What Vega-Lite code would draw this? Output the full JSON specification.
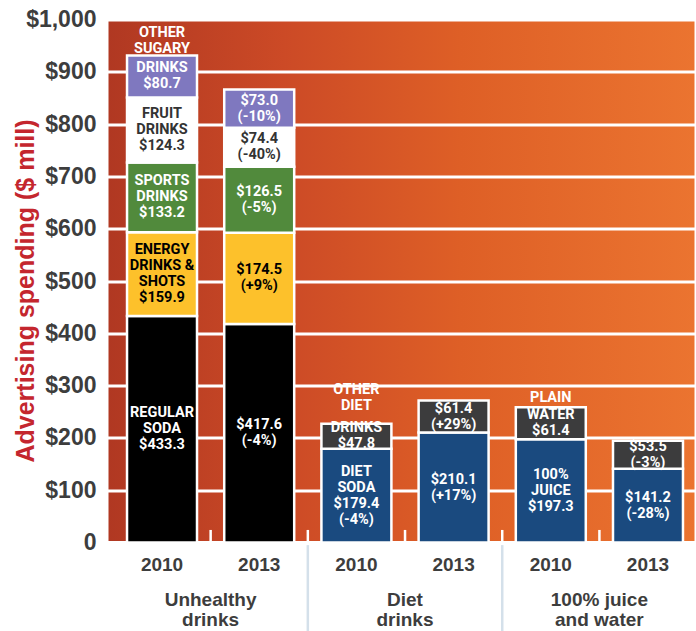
{
  "$schema": "https://vega.github.io/schema/vega-lite/v6.json",
  "width": 589,
  "height": 523,
  "autosize": {"type": "none"},
  "padding": {"left": 107, "top": 19.5, "right": 0, "bottom": 88.5},
  "background": "#ffffff",
  "view": {
    "fill": {"gradient": "linear", "x1": 0, "y1": 0, "x2": 1, "y2": 0,
      "stops": [
        {"offset": 0, "color": "#b03822"},
        {"offset": 0.3, "color": "#cc4a26"},
        {"offset": 0.6, "color": "#de5f26"},
        {"offset": 1, "color": "#eb7430"}
      ]},
    "stroke": "#ffffff",
    "strokeWidth": 3
  },
  "config": {"font": "Liberation Sans"},
  "datasets": {
    "segments": [
      {"bar": "Unhealthy drinks 2010", "segment": "Regular soda", "layer": 1, "value": 433.3, "label": "REGULAR\nSODA\n$433.3", "top": ""},
      {"bar": "Unhealthy drinks 2010", "segment": "Energy drinks & shots", "layer": 2, "value": 159.9, "label": "ENERGY\nDRINKS &\nSHOTS\n$159.9", "top": ""},
      {"bar": "Unhealthy drinks 2010", "segment": "Sports drinks", "layer": 3, "value": 133.2, "label": "SPORTS\nDRINKS\n$133.2", "top": ""},
      {"bar": "Unhealthy drinks 2010", "segment": "Fruit drinks", "layer": 4, "value": 124.3, "label": "FRUIT\nDRINKS\n$124.3", "top": ""},
      {"bar": "Unhealthy drinks 2010", "segment": "Other sugary drinks", "layer": 5, "value": 80.7, "label": "DRINKS\n$80.7", "top": "OTHER\nSUGARY"},
      {"bar": "Unhealthy drinks 2013", "segment": "Regular soda", "layer": 1, "value": 417.6, "label": "$417.6\n(-4%)", "top": ""},
      {"bar": "Unhealthy drinks 2013", "segment": "Energy drinks & shots", "layer": 2, "value": 174.5, "label": "$174.5\n(+9%)", "top": ""},
      {"bar": "Unhealthy drinks 2013", "segment": "Sports drinks", "layer": 3, "value": 126.5, "label": "$126.5\n(-5%)", "top": ""},
      {"bar": "Unhealthy drinks 2013", "segment": "Fruit drinks", "layer": 4, "value": 74.4, "label": "$74.4\n(-40%)", "top": ""},
      {"bar": "Unhealthy drinks 2013", "segment": "Other sugary drinks", "layer": 5, "value": 73.0, "label": "$73.0\n(-10%)", "top": ""},
      {"bar": "Diet drinks 2010", "segment": "Diet soda", "layer": 1, "value": 179.4, "label": "DIET\nSODA\n$179.4\n(-4%)", "top": ""},
      {"bar": "Diet drinks 2010", "segment": "Other diet drinks", "layer": 2, "value": 47.8, "label": "DRINKS\n$47.8", "top": "OTHER\nDIET"},
      {"bar": "Diet drinks 2013", "segment": "Diet soda", "layer": 1, "value": 210.1, "label": "$210.1\n(+17%)", "top": ""},
      {"bar": "Diet drinks 2013", "segment": "Other diet drinks", "layer": 2, "value": 61.4, "label": "$61.4\n(+29%)", "top": ""},
      {"bar": "100% juice and water 2010", "segment": "100% juice", "layer": 1, "value": 197.3, "label": "100%\nJUICE\n$197.3", "top": ""},
      {"bar": "100% juice and water 2010", "segment": "Plain water", "layer": 2, "value": 61.4, "label": "WATER\n$61.4", "top": "PLAIN"},
      {"bar": "100% juice and water 2013", "segment": "100% juice", "layer": 1, "value": 141.2, "label": "$141.2\n(-28%)", "top": ""},
      {"bar": "100% juice and water 2013", "segment": "Plain water", "layer": 2, "value": 53.5, "label": "$53.5\n(-3%)", "top": ""}
    ],
    "groups": [
      {"group": "Unhealthy\ndrinks", "first": "Unhealthy drinks 2010"},
      {"group": "Diet\ndrinks", "first": "Diet drinks 2010"},
      {"group": "100% juice\nand water", "first": "100% juice and water 2010"}
    ],
    "boundaries": [
      {"bar": "Unhealthy drinks 2013"},
      {"bar": "Diet drinks 2010"},
      {"bar": "Diet drinks 2013"},
      {"bar": "100% juice and water 2010"},
      {"bar": "100% juice and water 2013"}
    ]
  },
  "layer": [
    {
      "data": {"name": "segments"},
      "mark": {"type": "bar", "stroke": "#ffffff", "strokeWidth": 2.5},
      "encoding": {
        "x": {
          "field": "bar", "type": "nominal", "title": null,
          "scale": {
            "domain": ["Unhealthy drinks 2010", "Unhealthy drinks 2013", "Diet drinks 2010", "Diet drinks 2013", "100% juice and water 2010", "100% juice and water 2013"],
            "paddingInner": 0.28, "paddingOuter": 0.17, "align": 0.606
          },
          "axis": {
            "title": null, "labelExpr": "slice(datum.label, -4)", "labelAngle": 0,
            "ticks": false, "tickSize": 0, "domain": false, "labelPadding": 13,
            "labelFontSize": 19, "labelFontWeight": "bold", "labelColor": "#3d3d3d", "labelFont": "Liberation Sans"
          }
        },
        "y": {
          "field": "value", "type": "quantitative", "stack": "zero",
          "title": "Advertising spending ($ mill)",
          "scale": {"domain": [0, 1000], "nice": false},
          "axis": {
            "title": "Advertising spending ($ mill)",
            "values": [0, 100, 200, 300, 400, 500, 600, 700, 800, 900, 1000],
            "labelExpr": "datum.value == 0 ? '0' : '$' + format(datum.value, ',')",
            "grid": true, "gridColor": "#ffffff", "gridWidth": 3, "gridOpacity": 1,
            "domain": false, "ticks": false, "tickSize": 0, "labelPadding": 11,
            "labelFontSize": 23, "labelFontWeight": "bold", "labelColor": "#3d3d3d", "labelFont": "Liberation Sans",
            "titleColor": "#c4262e", "titleFontSize": 25, "titleFontWeight": "bold", "titleFont": "Liberation Sans",
            "titleX": -74, "titleY": 271, "titleBaseline": "alphabetic", "titleAngle": -90, "titleAlign": "center"
          }
        },
        "color": {
          "field": "segment", "type": "nominal", "legend": null,
          "scale": {
            "domain": ["Regular soda", "Energy drinks & shots", "Sports drinks", "Fruit drinks", "Other sugary drinks", "Diet soda", "Other diet drinks", "100% juice", "Plain water"],
            "range": ["#000000", "#fdc12b", "#518a3c", "#ffffff", "#7f78bf", "#1a4a7f", "#3c3c3d", "#1a4a7f", "#3c3c3d"]
          }
        },
        "order": {"field": "layer", "type": "quantitative"}
      }
    },
    {
      "data": {"name": "segments"},
      "mark": {"type": "text", "font": "Roboto", "fontWeight": "bold", "fontSize": 14.5, "lineHeight": 16, "lineBreak": "\n", "baseline": "middle", "dy": -8},
      "encoding": {
        "x": {"field": "bar", "type": "nominal"},
        "y": {"field": "value", "type": "quantitative", "stack": "zero", "bandPosition": 0.5},
        "detail": {"field": "segment"},
        "order": {"field": "layer", "type": "quantitative"},
        "text": {"condition": {"test": "length(split(datum.label, '\\n')) == 2", "field": "label"}, "value": ""},
        "color": {
          "condition": [
            {"test": "datum.segment === 'Energy drinks & shots'", "value": "#000000"},
            {"test": "datum.segment === 'Fruit drinks'", "value": "#333333"}
          ],
          "value": "#ffffff"
        }
      }
    },
    {
      "data": {"name": "segments"},
      "mark": {"type": "text", "font": "Roboto", "fontWeight": "bold", "fontSize": 14.5, "lineHeight": 16, "lineBreak": "\n", "baseline": "middle", "dy": -16},
      "encoding": {
        "x": {"field": "bar", "type": "nominal"},
        "y": {"field": "value", "type": "quantitative", "stack": "zero", "bandPosition": 0.5},
        "detail": {"field": "segment"},
        "order": {"field": "layer", "type": "quantitative"},
        "text": {"condition": {"test": "length(split(datum.label, '\\n')) == 3", "field": "label"}, "value": ""},
        "color": {
          "condition": [
            {"test": "datum.segment === 'Energy drinks & shots'", "value": "#000000"},
            {"test": "datum.segment === 'Fruit drinks'", "value": "#333333"}
          ],
          "value": "#ffffff"
        }
      }
    },
    {
      "data": {"name": "segments"},
      "mark": {"type": "text", "font": "Roboto", "fontWeight": "bold", "fontSize": 14.5, "lineHeight": 16, "lineBreak": "\n", "baseline": "middle", "dy": -24},
      "encoding": {
        "x": {"field": "bar", "type": "nominal"},
        "y": {"field": "value", "type": "quantitative", "stack": "zero", "bandPosition": 0.5},
        "detail": {"field": "segment"},
        "order": {"field": "layer", "type": "quantitative"},
        "text": {"condition": {"test": "length(split(datum.label, '\\n')) == 4", "field": "label"}, "value": ""},
        "color": {
          "condition": [
            {"test": "datum.segment === 'Energy drinks & shots'", "value": "#000000"},
            {"test": "datum.segment === 'Fruit drinks'", "value": "#333333"}
          ],
          "value": "#ffffff"
        }
      }
    },
    {
      "data": {"name": "segments"},
      "mark": {"type": "text", "font": "Roboto", "fontWeight": "bold", "fontSize": 14.5, "lineHeight": 16, "lineBreak": "\n", "baseline": "bottom", "color": "#ffffff", "dy": -15},
      "encoding": {
        "x": {"field": "bar", "type": "nominal"},
        "y": {"field": "value", "type": "quantitative", "stack": "zero"},
        "detail": {"field": "segment"},
        "order": {"field": "layer", "type": "quantitative"},
        "text": {"condition": {"test": "datum.segment === 'Other sugary drinks' && datum.top !== ''", "field": "top"}, "value": ""}
      }
    },
    {
      "data": {"name": "segments"},
      "mark": {"type": "text", "font": "Roboto", "fontWeight": "bold", "fontSize": 14.5, "lineHeight": 16, "lineBreak": "\n", "baseline": "bottom", "color": "#ffffff", "dy": -27},
      "encoding": {
        "x": {"field": "bar", "type": "nominal"},
        "y": {"field": "value", "type": "quantitative", "stack": "zero"},
        "detail": {"field": "segment"},
        "order": {"field": "layer", "type": "quantitative"},
        "text": {"condition": {"test": "datum.segment === 'Other diet drinks' && datum.top !== ''", "field": "top"}, "value": ""}
      }
    },
    {
      "data": {"name": "segments"},
      "mark": {"type": "text", "font": "Roboto", "fontWeight": "bold", "fontSize": 14.5, "lineHeight": 16, "lineBreak": "\n", "baseline": "bottom", "color": "#ffffff", "dy": -2},
      "encoding": {
        "x": {"field": "bar", "type": "nominal"},
        "y": {"field": "value", "type": "quantitative", "stack": "zero"},
        "detail": {"field": "segment"},
        "order": {"field": "layer", "type": "quantitative"},
        "text": {"condition": {"test": "datum.segment === 'Plain water' && datum.top !== ''", "field": "top"}, "value": ""}
      }
    },
    {
      "data": {"name": "boundaries"},
      "mark": {"type": "rule", "color": "#ffffff", "strokeWidth": 2.5},
      "encoding": {
        "x": {"field": "bar", "type": "nominal", "bandPosition": -0.194},
        "y": {"datum": 0},
        "y2": {"datum": 24}
      }
    },
    {
      "data": {"name": "groups"},
      "transform": [{"filter": "datum.first !== 'Unhealthy drinks 2010'"}],
      "mark": {"type": "rule", "color": "#d4e0ea", "strokeWidth": 2.5},
      "encoding": {
        "x": {"field": "first", "type": "nominal", "bandPosition": -0.194},
        "y": {"datum": -5},
        "y2": {"datum": -175}
      }
    },
    {
      "data": {"name": "groups"},
      "mark": {"type": "text", "font": "Liberation Sans", "fontWeight": "bold", "fontSize": 19, "lineHeight": 20, "lineBreak": "\n", "baseline": "middle", "color": "#3d3d3d"},
      "encoding": {
        "x": {"field": "first", "type": "nominal", "bandPosition": 1.194},
        "y": {"datum": -110},
        "text": {"field": "group"}
      }
    }
  ]
}
